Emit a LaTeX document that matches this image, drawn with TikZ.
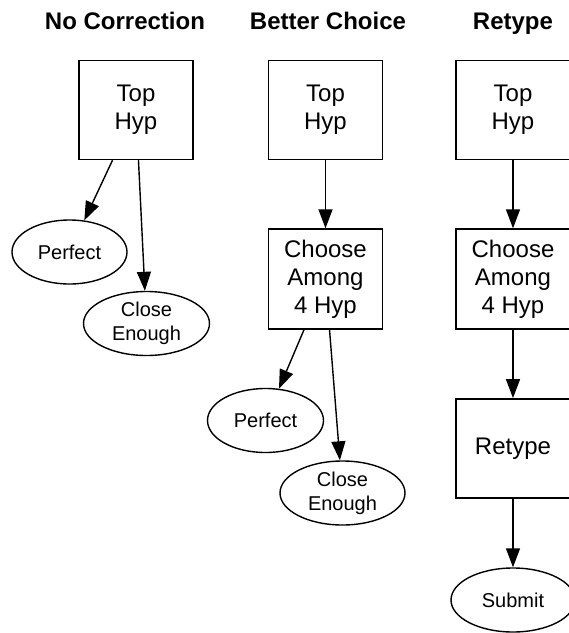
\documentclass[tikz,border=0pt]{standalone}
\usepackage{fontspec}
\setmainfont{Liberation Sans}
\usetikzlibrary{shapes.geometric,arrows.meta}

\begin{document}
\begin{tikzpicture}[x=1pt, y=-1pt,
	box/.style={draw, line width=1.4pt, rectangle, minimum width=114pt, minimum height=99pt, inner sep=0pt, align=center, font=\fontsize{24}{28}\selectfont},
	oval/.style={draw, line width=1.4pt, ellipse, minimum height=64pt, inner sep=0pt, align=center, font=\fontsize{20}{24}\selectfont},
	arr/.style={line width=1.4pt, -{Triangle[length=19pt, width=14pt]}}]

	%% Page frame (the right column runs off the edge)
	\clip (0,0) rectangle (569,633);

	%% Column titles
	\foreach \x/\t [count=\c] in {125/No Correction, 328/Better Choice, 513/Retype}{%
		\node[anchor=base, font=\fontsize{24}{28}\selectfont\bfseries] at (\x, 29.5) (t-\c) {\t};
	}

	%% The top row (index = 1)
	\foreach \x [count=\c] in {136, 325.5, 513}{%
		\node[box] at (\x, 110) (\c-1) {Top\\Hyp};
	}

	%% Choosing among hypotheses (columns 2 and 3)
	\foreach \x [count=\c from 2] in {325.5, 513}{%
		\node[box, minimum height=100pt] at (\x, 279) (\c-2) {Choose\\Among\\4 Hyp};
	}

	%% Outcomes
	\node[oval, minimum width=115pt] at (69.5, 252) (1-3) {Perfect};
	\node[oval, minimum width=126pt] at (146.5, 323.5) (1-4) {Close\\Enough};
	\node[oval, minimum width=116pt] at (265.5, 420.5) (2-3) {Perfect};
	\node[oval, minimum width=125pt] at (342.5, 493) (2-4) {Close\\Enough};

	%% Retype path
	\node[box] at (513, 448.3) (3-3) {Retype};
	\node[oval, minimum width=124pt] at (513, 600) (3-4) {Submit};

	%% Edges
	\draw[arr] (1-1) -- (1-3);
	\draw[arr] (1-1) -- (1-4);
	\draw[arr] (2-1) -- (2-2);
	\draw[arr] (2-2) -- (2-3);
	\draw[arr] (2-2) -- (2-4);
	\foreach \a/\b in {1/2, 2/3, 3/4}{%
		\draw[arr] (3-\a) -- (3-\b);
	}

\end{tikzpicture}
\end{document}
